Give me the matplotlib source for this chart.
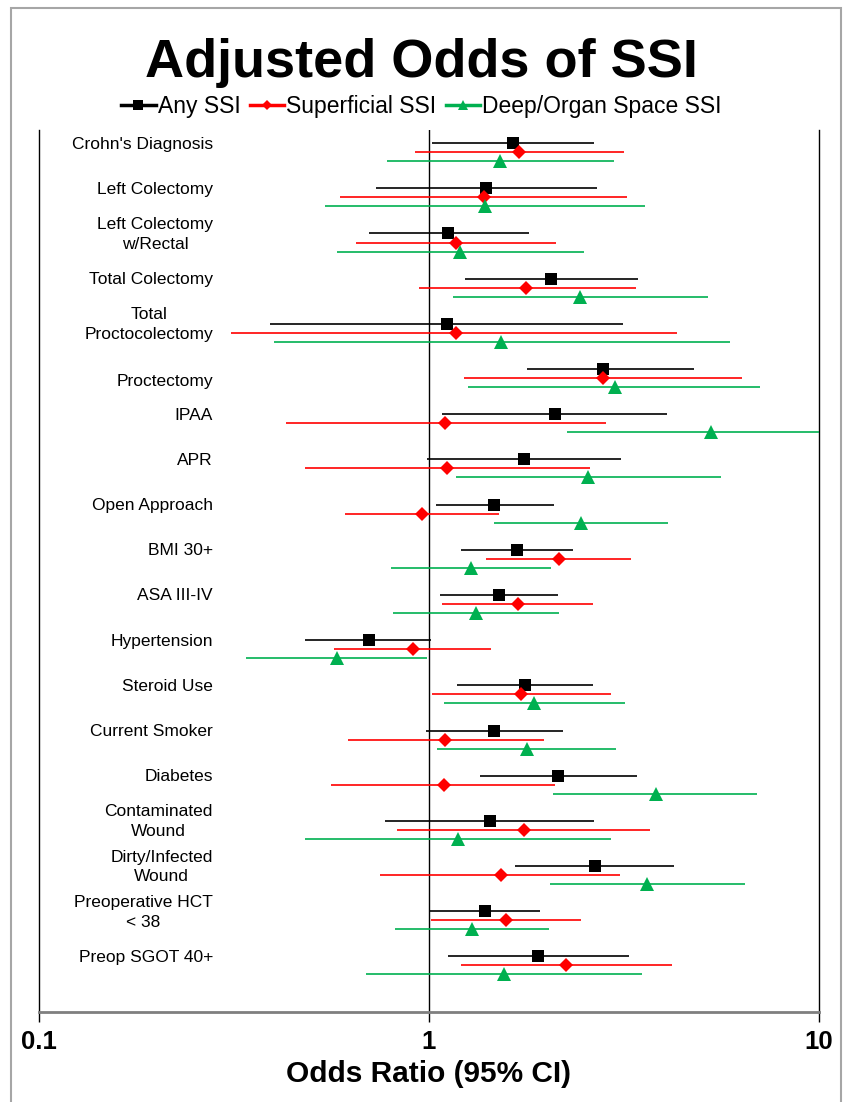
import numpy as np
import matplotlib.pyplot as plt
import matplotlib.font_manager as fm
from matplotlib.patches import Rectangle
from matplotlib.lines import Line2D

plt.rcParams['font.family'] = ['Liberation Sans', 'DejaVu Sans']

# condensed face for title / x label if present
installed = {f.name for f in fm.fontManager.ttflist}
has_narrow = 'Liberation Sans Narrow' in installed
title_font = ['Liberation Sans Narrow', 'Liberation Sans'] if has_narrow else ['Liberation Sans']

categories = ["Crohn's Diagnosis", "Left Colectomy", "Left Colectomy\nw/Rectal",
              "Total Colectomy", "Total\nProctocolectomy", "Proctectomy", "IPAA", "APR",
              "Open Approach", "BMI 30+", "ASA III-IV", "Hypertension", "Steroid Use",
              "Current Smoker", "Diabetes", "Contaminated\nWound", "Dirty/Infected\nWound",
              "Preoperative HCT\n< 38", "Preop SGOT 40+"]

any_or = [1.64, 1.40, 1.12, 2.05, 1.11, 2.80, 2.10, 1.75, 1.47, 1.68, 1.51, 0.70, 1.76,
          1.47, 2.14, 1.43, 2.66, 1.39, 1.90]
any_lo = [1.02, 0.73, 0.70, 1.24, 0.39, 1.78, 1.08, 0.99, 1.04, 1.21, 1.07, 0.48, 1.18,
          0.98, 1.35, 0.77, 1.66, 1.00, 1.12]
any_hi = [2.65, 2.69, 1.81, 3.44, 3.14, 4.78, 4.07, 3.10, 2.09, 2.34, 2.14, 1.01, 2.63,
          2.20, 3.42, 2.65, 4.26, 1.93, 3.25]

sup_or = [1.70, 1.38, 1.17, 1.77, 1.17, 2.79, 1.10, 1.11, 0.96, 2.15, 1.69, 0.91, 1.72,
          1.10, 1.09, 1.75, 1.53, 1.58, 2.24]
sup_lo = [0.92, 0.59, 0.65, 0.94, 0.31, 1.23, 0.43, 0.48, 0.61, 1.40, 1.08, 0.57, 1.02,
          0.62, 0.56, 0.83, 0.75, 1.01, 1.21]
sup_hi = [3.16, 3.22, 2.12, 3.40, 4.32, 6.34, 2.84, 2.58, 1.51, 3.30, 2.64, 1.44, 2.93,
          1.97, 2.10, 3.69, 3.09, 2.46, 4.21]

deep_or = [1.52, 1.39, 1.20, 2.44, 1.53, 2.99, 5.30, 2.56, 2.46, 1.28, 1.32, 0.58, 1.86,
           1.78, 3.81, 1.19, 3.63, 1.29, 1.56]
deep_lo = [0.78, 0.54, 0.58, 1.15, 0.40, 1.26, 2.26, 1.17, 1.47, 0.80, 0.81, 0.34, 1.09,
           1.05, 2.08, 0.48, 2.04, 0.82, 0.69]
deep_hi = [2.98, 3.58, 2.49, 5.19, 5.93, 7.06, 12.0, 5.60, 4.11, 2.05, 2.16, 0.99, 3.19,
           3.01, 6.94, 2.93, 6.47, 2.03, 3.52]

series = [
    ("Any SSI", any_or, any_lo, any_hi, "black", "s", 9, 0.0),
    ("Superficial SSI", sup_or, sup_lo, sup_hi, "#ff0000", "D", 7, 0.2),
    ("Deep/Organ Space SSI", deep_or, deep_lo, deep_hi, "#00b050", "^", 9.5, 0.4),
]

fig = plt.figure(figsize=(8.43, 11.02), dpi=100)
ax = fig.add_axes([39 / 843, 90 / 1102, 780 / 843, 882 / 1102])

rows = np.arange(len(categories))
handles = []
for name, v, lo, hi, col, mk, ms, off in series:
    v = np.array(v)
    err = [v - np.array(lo), np.array(hi) - v]
    ax.errorbar(v, rows + off, xerr=err, fmt=mk, color=col, ecolor=col, elinewidth=1.2,
                capsize=3.5, capthick=1.2, markersize=ms, markeredgewidth=0, zorder=3)
    handles.append(Line2D([0], [0], color=col, marker=mk, markersize=ms * 0.8, lw=2.5,
                          markeredgewidth=0, label=name))

ax.axvline(1, color='black', lw=1, zorder=1)
ax.set_xscale('log')
ax.set_xlim(0.1, 10)
ax.set_ylim(19.23, -0.29)
ax.set_yticks([])
ax.set_xticks([0.1, 1, 10])
ax.set_xticklabels(['0.1', '1', '10'], fontsize=18.5, fontweight='bold')
ax.minorticks_off()
ax.tick_params(axis='x', length=7, width=1, pad=6, color='black')
ax.set_xlabel('Odds Ratio (95% CI)', fontsize=24 if has_narrow else 21.5,
              fontweight='bold', family=title_font, labelpad=4)

ax.spines['top'].set_visible(False)
ax.spines['left'].set_linewidth(1)
ax.spines['right'].set_linewidth(1)
ax.spines['bottom'].set_color('#7f7f7f')
ax.spines['bottom'].set_linewidth(2)

trans = ax.get_yaxis_transform()
for i, lab in enumerate(categories):
    dy = 0.28 if lab == "Proctectomy" else 0.02
    ax.text(0.223, i + dy, lab, transform=trans, ha='right', va='center',
            multialignment='center', fontsize=12.5, linespacing=1.4)

fig.text(0.5, 1 - 77 / 1102, 'Adjusted Odds of SSI', ha='center', va='baseline',
         fontsize=44 if has_narrow else 39, fontweight='bold', family=title_font)
fig.legend(handles=handles, loc='center', bbox_to_anchor=(0.5, 1 - 107 / 1102), ncol=3,
           frameon=False, fontsize=16.5, handlelength=1.5, handletextpad=0.1,
           columnspacing=0.4)

fig.patches.append(Rectangle((11 / 843, -0.05), 830 / 843, 1.05 - 8.5 / 1102,
                             transform=fig.transFigure, fill=False, edgecolor='#a6a6a6',
                             lw=1.5, zorder=0))

fig.savefig('out.png', dpi=100)
